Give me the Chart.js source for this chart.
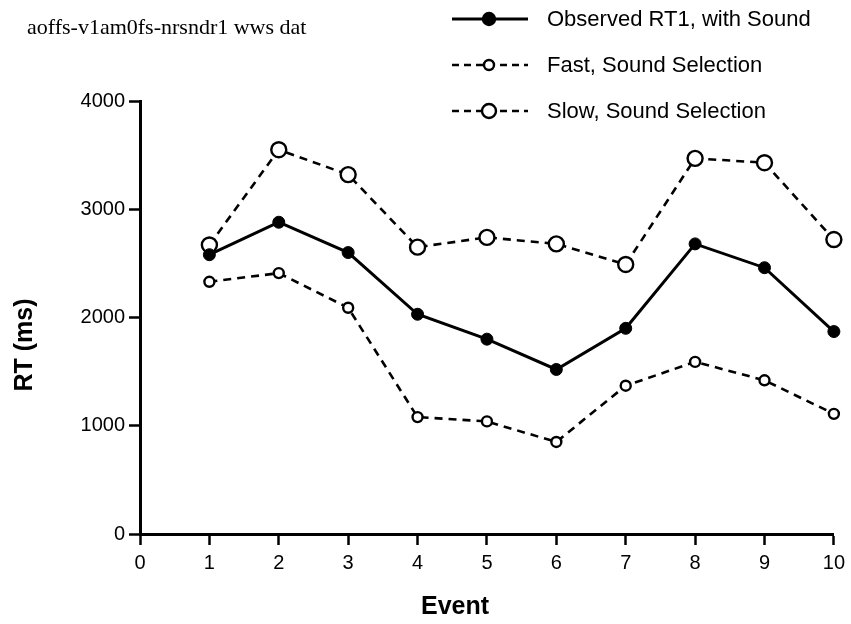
<!DOCTYPE html>
<html>
<head>
<meta charset="utf-8">
<script src="https://cdn.jsdelivr.net/npm/chart.js@4"></script>
<style>
  html, body { margin: 0; padding: 0; background: #fff; }
  #wrap { width: 851px; height: 624px; position: relative; }
</style>
</head>
<body>
<div id="wrap"><canvas id="rtChart" width="851" height="624"></canvas></div>
<script>
const events = [1, 2, 3, 4, 5, 6, 7, 8, 9, 10];
const observed = [2580, 2880, 2600, 2030, 1800, 1520, 1900, 2680, 2460, 1870];
const fast = [2330, 2410, 2090, 1080, 1040, 850, 1370, 1590, 1420, 1110];
const slow = [2670, 3550, 3320, 2650, 2740, 2680, 2490, 3470, 3430, 2720];

const seriesNames = ['Observed RT1, with Sound', 'Fast, Sound Selection', 'Slow, Sound Selection'];
const fileLabel = 'aoffs-v1am0fs-nrsndr1 wws dat';

const sans = '"Liberation Sans", Arial, Helvetica, sans-serif';

function toPoints(values) {
  return events.map((e, i) => ({ x: e, y: values[i] }));
}

// header text, legend and axis titles drawn straight on the canvas
const decorations = {
  id: 'decorations',
  afterDraw(chart) {
    const ctx = chart.ctx;
    ctx.save();
    ctx.fillStyle = '#000';
    ctx.strokeStyle = '#000';

    ctx.font = '22px "Liberation Serif", "Times New Roman", serif';
    ctx.textAlign = 'left';
    ctx.textBaseline = 'middle';
    ctx.fillText(fileLabel, 27, 28);

    // legend
    const rows = [
      { y: 19, dash: [], width: 3, r: 6, fill: '#000' },
      { y: 65, dash: [7, 5], width: 2.6, r: 5, fill: '#fff' },
      { y: 111, dash: [7, 5], width: 2.6, r: 7, fill: '#fff' }
    ];
    rows.forEach((row, i) => {
      ctx.setLineDash(row.dash);
      ctx.lineWidth = row.width;
      ctx.beginPath();
      ctx.moveTo(452, row.y);
      ctx.lineTo(528, row.y);
      ctx.stroke();
      ctx.setLineDash([]);
      ctx.beginPath();
      ctx.arc(489, row.y, row.r, 0, Math.PI * 2);
      ctx.fillStyle = row.fill;
      ctx.fill();
      ctx.lineWidth = 2.4;
      ctx.stroke();
      ctx.fillStyle = '#000';
      ctx.font = '22px ' + sans;
      ctx.fillText(seriesNames[i], 547, row.y + 1);
    });

    // axis titles
    ctx.font = 'bold 25px ' + sans;
    ctx.textAlign = 'center';
    ctx.fillText('Event', 455, 607);
    ctx.translate(25, 345);
    ctx.rotate(-Math.PI / 2);
    ctx.fillText('RT (ms)', 0, 0);
    ctx.restore();
  }
};

const axisGrid = {
  display: true,
  drawOnChartArea: false,
  drawTicks: true,
  tickLength: 11,
  tickWidth: 2.5,
  tickColor: '#000'
};

new Chart(document.getElementById('rtChart'), {
  type: 'line',
  data: {
    datasets: [
      {
        label: seriesNames[0],
        data: toPoints(observed),
        borderColor: '#000',
        borderWidth: 3,
        pointRadius: 6,
        pointBackgroundColor: '#000',
        pointBorderColor: '#000',
        pointBorderWidth: 1,
        tension: 0
      },
      {
        label: seriesNames[1],
        data: toPoints(fast),
        borderColor: '#000',
        borderWidth: 2.6,
        borderDash: [8, 6],
        pointRadius: 5,
        pointBackgroundColor: '#fff',
        pointBorderColor: '#000',
        pointBorderWidth: 2.4,
        tension: 0
      },
      {
        label: seriesNames[2],
        data: toPoints(slow),
        borderColor: '#000',
        borderWidth: 2.6,
        borderDash: [8, 6],
        pointRadius: 7.5,
        pointBackgroundColor: '#fff',
        pointBorderColor: '#000',
        pointBorderWidth: 2.4,
        tension: 0
      }
    ]
  },
  options: {
    responsive: false,
    animation: false,
    clip: false,
    layout: { padding: { top: 101, right: 16, left: 0, bottom: 0 } },
    plugins: {
      legend: { display: false },
      tooltip: { enabled: false }
    },
    scales: {
      x: {
        type: 'linear',
        min: 0,
        max: 10,
        afterFit(scale) { scale.height = 90; },
        ticks: {
          stepSize: 1,
          color: '#000',
          padding: 6,
          font: { family: sans, size: 20 },
          maxRotation: 0
        },
        grid: axisGrid,
        border: { display: true, color: '#000', width: 3 }
      },
      y: {
        min: 0,
        max: 4000,
        afterFit(scale) { scale.width = 140; },
        ticks: {
          stepSize: 1000,
          color: '#000',
          padding: 4,
          font: { family: sans, size: 20 },
          callback: (value) => String(value)
        },
        grid: axisGrid,
        border: { display: true, color: '#000', width: 3 }
      }
    }
  },
  plugins: [decorations]
});
</script>
</body>
</html>
